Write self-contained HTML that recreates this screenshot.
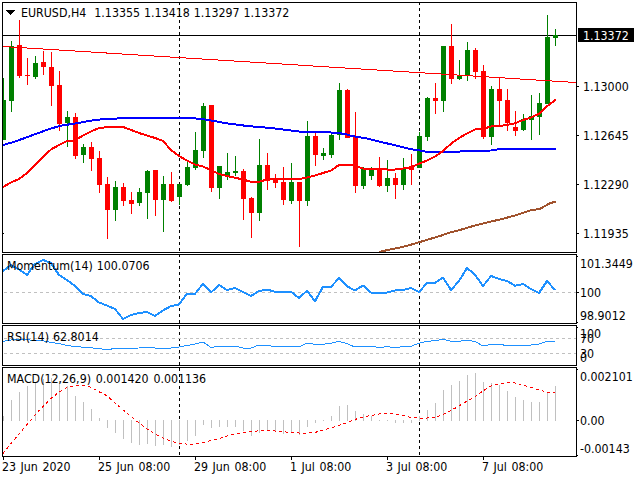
<!DOCTYPE html><html><head><meta charset="utf-8"><title>EURUSD H4</title>
<style>html,body{margin:0;padding:0;background:#fff;}svg{display:block}text{font-family:"DejaVu Sans Condensed","DejaVu Sans","Liberation Sans",sans-serif;font-size:12.3px;fill:#000}</style></head><body>
<svg width="640" height="480" viewBox="0 0 640 480">
<rect width="640" height="480" fill="#fff"/>
<defs><clipPath id="cm"><rect x="3" y="3" width="573" height="249"/></clipPath></defs>
<g shape-rendering="crispEdges">
<line x1="179.5" y1="3" x2="179.5" y2="252" stroke="#000" stroke-width="1" stroke-dasharray="3 3" stroke-dashoffset="1"/>
<line x1="179.5" y1="255" x2="179.5" y2="323" stroke="#000" stroke-width="1" stroke-dasharray="3 3" stroke-dashoffset="1"/>
<line x1="179.5" y1="326" x2="179.5" y2="365" stroke="#000" stroke-width="1" stroke-dasharray="3 3" stroke-dashoffset="0"/>
<line x1="179.5" y1="368" x2="179.5" y2="456" stroke="#000" stroke-width="1" stroke-dasharray="3 3" stroke-dashoffset="0"/>
<line x1="419.5" y1="3" x2="419.5" y2="252" stroke="#000" stroke-width="1" stroke-dasharray="3 3" stroke-dashoffset="1"/>
<line x1="419.5" y1="255" x2="419.5" y2="323" stroke="#000" stroke-width="1" stroke-dasharray="3 3" stroke-dashoffset="1"/>
<line x1="419.5" y1="326" x2="419.5" y2="365" stroke="#000" stroke-width="1" stroke-dasharray="3 3" stroke-dashoffset="0"/>
<line x1="419.5" y1="368" x2="419.5" y2="456" stroke="#000" stroke-width="1" stroke-dasharray="3 3" stroke-dashoffset="0"/>
<rect x="3" y="35" width="574" height="1" fill="#000"/>
<g clip-path="url(#cm)">
<rect x="3" y="78" width="1" height="62" fill="#008000"/>
<rect x="1" y="100" width="5" height="40" fill="#008000"/>
<rect x="11" y="41" width="1" height="71" fill="#008000"/>
<rect x="9" y="46" width="5" height="55" fill="#008000"/>
<rect x="19" y="20" width="1" height="58" fill="#FF0000"/>
<rect x="17" y="45" width="5" height="31" fill="#FF0000"/>
<rect x="27" y="58" width="1" height="27" fill="#FF0000"/>
<rect x="25" y="75" width="5" height="1" fill="#FF0000"/>
<rect x="35" y="56" width="1" height="23" fill="#008000"/>
<rect x="33" y="63" width="5" height="14" fill="#008000"/>
<rect x="43" y="51" width="1" height="24" fill="#FF0000"/>
<rect x="41" y="62" width="5" height="5" fill="#FF0000"/>
<rect x="51" y="52" width="1" height="54" fill="#FF0000"/>
<rect x="49" y="67" width="5" height="19" fill="#FF0000"/>
<rect x="59" y="71" width="1" height="60" fill="#FF0000"/>
<rect x="57" y="85" width="5" height="39" fill="#FF0000"/>
<rect x="67" y="111" width="1" height="36" fill="#008000"/>
<rect x="65" y="117" width="5" height="6" fill="#008000"/>
<rect x="75" y="113" width="1" height="46" fill="#FF0000"/>
<rect x="73" y="117" width="5" height="39" fill="#FF0000"/>
<rect x="83" y="144" width="1" height="19" fill="#008000"/>
<rect x="81" y="147" width="5" height="8" fill="#008000"/>
<rect x="91" y="142" width="1" height="29" fill="#FF0000"/>
<rect x="89" y="147" width="5" height="12" fill="#FF0000"/>
<rect x="99" y="151" width="1" height="42" fill="#FF0000"/>
<rect x="97" y="158" width="5" height="27" fill="#FF0000"/>
<rect x="107" y="177" width="1" height="62" fill="#FF0000"/>
<rect x="105" y="184" width="5" height="26" fill="#FF0000"/>
<rect x="115" y="181" width="1" height="40" fill="#008000"/>
<rect x="113" y="187" width="5" height="23" fill="#008000"/>
<rect x="123" y="183" width="1" height="23" fill="#FF0000"/>
<rect x="121" y="187" width="5" height="14" fill="#FF0000"/>
<rect x="131" y="192" width="1" height="22" fill="#FF0000"/>
<rect x="129" y="200" width="5" height="4" fill="#FF0000"/>
<rect x="139" y="188" width="1" height="18" fill="#008000"/>
<rect x="137" y="192" width="5" height="11" fill="#008000"/>
<rect x="147" y="170" width="1" height="49" fill="#008000"/>
<rect x="145" y="171" width="5" height="22" fill="#008000"/>
<rect x="155" y="170" width="1" height="46" fill="#FF0000"/>
<rect x="153" y="170" width="5" height="30" fill="#FF0000"/>
<rect x="163" y="176" width="1" height="56" fill="#008000"/>
<rect x="161" y="184" width="5" height="16" fill="#008000"/>
<rect x="171" y="172" width="1" height="30" fill="#FF0000"/>
<rect x="169" y="184" width="5" height="17" fill="#FF0000"/>
<rect x="179" y="184" width="1" height="21" fill="#008000"/>
<rect x="177" y="184" width="5" height="13" fill="#008000"/>
<rect x="187" y="161" width="1" height="25" fill="#008000"/>
<rect x="185" y="167" width="5" height="18" fill="#008000"/>
<rect x="195" y="132" width="1" height="38" fill="#008000"/>
<rect x="193" y="150" width="5" height="18" fill="#008000"/>
<rect x="203" y="103" width="1" height="55" fill="#008000"/>
<rect x="201" y="106" width="5" height="45" fill="#008000"/>
<rect x="211" y="105" width="1" height="87" fill="#FF0000"/>
<rect x="209" y="105" width="5" height="83" fill="#FF0000"/>
<rect x="219" y="166" width="1" height="33" fill="#008000"/>
<rect x="217" y="166" width="5" height="22" fill="#008000"/>
<rect x="227" y="153" width="1" height="27" fill="#008000"/>
<rect x="225" y="172" width="5" height="5" fill="#008000"/>
<rect x="235" y="156" width="1" height="20" fill="#008000"/>
<rect x="233" y="171" width="5" height="2" fill="#008000"/>
<rect x="243" y="169" width="1" height="51" fill="#FF0000"/>
<rect x="241" y="171" width="5" height="28" fill="#FF0000"/>
<rect x="251" y="197" width="1" height="41" fill="#FF0000"/>
<rect x="249" y="198" width="5" height="15" fill="#FF0000"/>
<rect x="259" y="139" width="1" height="82" fill="#008000"/>
<rect x="257" y="165" width="5" height="48" fill="#008000"/>
<rect x="267" y="153" width="1" height="37" fill="#FF0000"/>
<rect x="265" y="165" width="5" height="16" fill="#FF0000"/>
<rect x="275" y="174" width="1" height="14" fill="#FF0000"/>
<rect x="273" y="180" width="5" height="3" fill="#FF0000"/>
<rect x="283" y="167" width="1" height="38" fill="#FF0000"/>
<rect x="281" y="182" width="5" height="18" fill="#FF0000"/>
<rect x="291" y="163" width="1" height="41" fill="#008000"/>
<rect x="289" y="182" width="5" height="19" fill="#008000"/>
<rect x="299" y="182" width="1" height="65" fill="#FF0000"/>
<rect x="297" y="182" width="5" height="19" fill="#FF0000"/>
<rect x="307" y="121" width="1" height="85" fill="#008000"/>
<rect x="305" y="136" width="5" height="65" fill="#008000"/>
<rect x="315" y="133" width="1" height="33" fill="#FF0000"/>
<rect x="313" y="136" width="5" height="19" fill="#FF0000"/>
<rect x="323" y="148" width="1" height="12" fill="#008000"/>
<rect x="321" y="153" width="5" height="3" fill="#008000"/>
<rect x="331" y="134" width="1" height="24" fill="#008000"/>
<rect x="329" y="135" width="5" height="20" fill="#008000"/>
<rect x="339" y="83" width="1" height="57" fill="#008000"/>
<rect x="337" y="90" width="5" height="45" fill="#008000"/>
<rect x="347" y="89" width="1" height="49" fill="#FF0000"/>
<rect x="345" y="90" width="5" height="48" fill="#FF0000"/>
<rect x="355" y="112" width="1" height="81" fill="#FF0000"/>
<rect x="353" y="136" width="5" height="50" fill="#FF0000"/>
<rect x="363" y="167" width="1" height="22" fill="#008000"/>
<rect x="361" y="169" width="5" height="17" fill="#008000"/>
<rect x="371" y="167" width="1" height="13" fill="#008000"/>
<rect x="369" y="170" width="5" height="6" fill="#008000"/>
<rect x="379" y="157" width="1" height="30" fill="#FF0000"/>
<rect x="377" y="169" width="5" height="17" fill="#FF0000"/>
<rect x="387" y="160" width="1" height="32" fill="#008000"/>
<rect x="385" y="178" width="5" height="8" fill="#008000"/>
<rect x="395" y="173" width="1" height="26" fill="#FF0000"/>
<rect x="393" y="178" width="5" height="7" fill="#FF0000"/>
<rect x="403" y="158" width="1" height="32" fill="#008000"/>
<rect x="401" y="169" width="5" height="16" fill="#008000"/>
<rect x="411" y="154" width="1" height="31" fill="#FF0000"/>
<rect x="409" y="166" width="5" height="4" fill="#FF0000"/>
<rect x="419" y="132" width="1" height="36" fill="#008000"/>
<rect x="417" y="136" width="5" height="32" fill="#008000"/>
<rect x="427" y="97" width="1" height="44" fill="#008000"/>
<rect x="425" y="98" width="5" height="39" fill="#008000"/>
<rect x="435" y="83" width="1" height="31" fill="#FF0000"/>
<rect x="433" y="98" width="5" height="3" fill="#FF0000"/>
<rect x="443" y="46" width="1" height="66" fill="#008000"/>
<rect x="441" y="46" width="5" height="55" fill="#008000"/>
<rect x="451" y="24" width="1" height="60" fill="#FF0000"/>
<rect x="449" y="46" width="5" height="33" fill="#FF0000"/>
<rect x="459" y="60" width="1" height="20" fill="#008000"/>
<rect x="457" y="75" width="5" height="4" fill="#008000"/>
<rect x="467" y="42" width="1" height="39" fill="#008000"/>
<rect x="465" y="50" width="5" height="25" fill="#008000"/>
<rect x="475" y="48" width="1" height="31" fill="#FF0000"/>
<rect x="473" y="50" width="5" height="22" fill="#FF0000"/>
<rect x="483" y="65" width="1" height="74" fill="#FF0000"/>
<rect x="481" y="71" width="5" height="66" fill="#FF0000"/>
<rect x="491" y="86" width="1" height="59" fill="#008000"/>
<rect x="489" y="89" width="5" height="48" fill="#008000"/>
<rect x="499" y="77" width="1" height="48" fill="#FF0000"/>
<rect x="497" y="89" width="5" height="12" fill="#FF0000"/>
<rect x="507" y="89" width="1" height="42" fill="#FF0000"/>
<rect x="505" y="100" width="5" height="23" fill="#FF0000"/>
<rect x="515" y="111" width="1" height="25" fill="#FF0000"/>
<rect x="513" y="127" width="5" height="4" fill="#FF0000"/>
<rect x="523" y="114" width="1" height="17" fill="#008000"/>
<rect x="521" y="119" width="5" height="11" fill="#008000"/>
<rect x="531" y="95" width="1" height="45" fill="#008000"/>
<rect x="529" y="116" width="5" height="4" fill="#008000"/>
<rect x="539" y="93" width="1" height="42" fill="#008000"/>
<rect x="537" y="103" width="5" height="14" fill="#008000"/>
<rect x="547" y="15" width="1" height="89" fill="#008000"/>
<rect x="545" y="37" width="5" height="67" fill="#008000"/>
<rect x="555" y="29" width="1" height="17" fill="#008000"/>
<rect x="553" y="35" width="5" height="3" fill="#008000"/>
</g>
<line x1="3" y1="46.5" x2="576" y2="82.5" stroke="#FF0000" stroke-width="1" clip-path="url(#cm)"/>
<polyline points="379,252 390,249.5 400,247.5 410,245 420,242 430,239 440,236 450,232.5 460,230 475,225.5 487,222.5 500,219.5 515,215.5 530,210.5 540,208.75 550,203.25 556,201.5" fill="none" stroke="#A0522D" stroke-width="2" stroke-linejoin="round" clip-path="url(#cm)"/>
<polyline points="3,145 12,142.5 25,138 37,133.5 50,128.75 62,125.5 75,123.5 92,120.5 100,119.5 110,119 125,118 140,117.5 150,118 164,117.5 187,117.5 196,118.5 205,119.5 214,121 222,122.5 231,124 240,125 247,126 259,127 271,128 279,129 287,130 295,131 303,132 323,132 338,133 345,134 350,135.5 358,137 367,138.5 375,140.5 383,142.5 392,144.5 400,146.5 410,149 420,150.5 428,152 450,152 460,151.5 470,151 491,150.5 500,149 556,149" fill="none" stroke="#0000FF" stroke-width="2" stroke-linejoin="round" />
<polyline points="3,187 11,182.5 19,179 27,173 35,165 43,157 51,149.5 59,145 67,141 75,140.5 83,135.5 91,131.5 99,128 107,127.25 115,127 123,127 131,130 139,133 147,135.5 155,138 163,141 171,150 179,156 187,160.5 195,164.5 203,166.5 211,170 219,174 227,176 235,177.75 243,179.5 251,181.75 259,181.75 267,179.5 275,179 283,179 291,179 299,179 307,177.5 315,175.5 323,173 331,170.5 339,165 347,165 355,165.5 363,168.5 371,169 379,169 387,169.5 395,169.5 403,168.5 411,167.25 419,163.75 427,160.5 435,156.5 443,151 451,143.75 459,138 467,133.5 475,129.5 483,128.75 491,126.5 499,126 507,125 515,123.25 523,120 531,117.5 539,113.75 547,106.25 556,99.5" fill="none" stroke="#FF0000" stroke-width="2" stroke-linejoin="round" />
<line x1="4" y1="292.5" x2="576" y2="292.5" stroke="#C0C0C0" stroke-width="1" stroke-dasharray="3 3"/>
<line x1="4" y1="338.5" x2="576" y2="338.5" stroke="#C0C0C0" stroke-width="1" stroke-dasharray="3 3"/>
<line x1="4" y1="353.5" x2="576" y2="353.5" stroke="#C0C0C0" stroke-width="1" stroke-dasharray="3 3"/>
<rect x="3" y="416" width="1" height="5" fill="#C0C0C0"/>
<rect x="11" y="400" width="1" height="21" fill="#C0C0C0"/>
<rect x="19" y="392" width="1" height="29" fill="#C0C0C0"/>
<rect x="27" y="386" width="1" height="35" fill="#C0C0C0"/>
<rect x="35" y="382" width="1" height="39" fill="#C0C0C0"/>
<rect x="43" y="379" width="1" height="42" fill="#C0C0C0"/>
<rect x="51" y="378" width="1" height="43" fill="#C0C0C0"/>
<rect x="59" y="381" width="1" height="40" fill="#C0C0C0"/>
<rect x="67" y="386" width="1" height="35" fill="#C0C0C0"/>
<rect x="75" y="396" width="1" height="25" fill="#C0C0C0"/>
<rect x="83" y="402" width="1" height="19" fill="#C0C0C0"/>
<rect x="91" y="409" width="1" height="12" fill="#C0C0C0"/>
<rect x="99" y="418" width="1" height="3" fill="#C0C0C0"/>
<rect x="107" y="420" width="1" height="8" fill="#C0C0C0"/>
<rect x="115" y="420" width="1" height="13" fill="#C0C0C0"/>
<rect x="123" y="420" width="1" height="19" fill="#C0C0C0"/>
<rect x="131" y="420" width="1" height="23" fill="#C0C0C0"/>
<rect x="139" y="420" width="1" height="25" fill="#C0C0C0"/>
<rect x="147" y="420" width="1" height="24" fill="#C0C0C0"/>
<rect x="155" y="420" width="1" height="26" fill="#C0C0C0"/>
<rect x="163" y="420" width="1" height="25" fill="#C0C0C0"/>
<rect x="171" y="420" width="1" height="27" fill="#C0C0C0"/>
<rect x="179" y="420" width="1" height="25" fill="#C0C0C0"/>
<rect x="187" y="420" width="1" height="21" fill="#C0C0C0"/>
<rect x="195" y="420" width="1" height="16" fill="#C0C0C0"/>
<rect x="203" y="420" width="1" height="5" fill="#C0C0C0"/>
<rect x="211" y="420" width="1" height="8" fill="#C0C0C0"/>
<rect x="219" y="420" width="1" height="7" fill="#C0C0C0"/>
<rect x="227" y="420" width="1" height="7" fill="#C0C0C0"/>
<rect x="235" y="420" width="1" height="7" fill="#C0C0C0"/>
<rect x="243" y="420" width="1" height="11" fill="#C0C0C0"/>
<rect x="251" y="420" width="1" height="16" fill="#C0C0C0"/>
<rect x="259" y="420" width="1" height="13" fill="#C0C0C0"/>
<rect x="267" y="420" width="1" height="11" fill="#C0C0C0"/>
<rect x="275" y="420" width="1" height="11" fill="#C0C0C0"/>
<rect x="283" y="420" width="1" height="14" fill="#C0C0C0"/>
<rect x="291" y="420" width="1" height="13" fill="#C0C0C0"/>
<rect x="299" y="420" width="1" height="15" fill="#C0C0C0"/>
<rect x="307" y="420" width="1" height="7" fill="#C0C0C0"/>
<rect x="315" y="420" width="1" height="3" fill="#C0C0C0"/>
<rect x="323" y="420" width="1" height="1" fill="#C0C0C0"/>
<rect x="331" y="416" width="1" height="5" fill="#C0C0C0"/>
<rect x="339" y="406" width="1" height="15" fill="#C0C0C0"/>
<rect x="347" y="405" width="1" height="16" fill="#C0C0C0"/>
<rect x="355" y="411" width="1" height="10" fill="#C0C0C0"/>
<rect x="363" y="414" width="1" height="7" fill="#C0C0C0"/>
<rect x="371" y="416" width="1" height="5" fill="#C0C0C0"/>
<rect x="379" y="420" width="1" height="1" fill="#C0C0C0"/>
<rect x="387" y="420" width="1" height="1" fill="#C0C0C0"/>
<rect x="395" y="420" width="1" height="3" fill="#C0C0C0"/>
<rect x="403" y="420" width="1" height="3" fill="#C0C0C0"/>
<rect x="411" y="420" width="1" height="3" fill="#C0C0C0"/>
<rect x="419" y="416" width="1" height="5" fill="#C0C0C0"/>
<rect x="427" y="410" width="1" height="11" fill="#C0C0C0"/>
<rect x="435" y="403" width="1" height="18" fill="#C0C0C0"/>
<rect x="443" y="390" width="1" height="31" fill="#C0C0C0"/>
<rect x="451" y="385" width="1" height="36" fill="#C0C0C0"/>
<rect x="459" y="381" width="1" height="40" fill="#C0C0C0"/>
<rect x="467" y="375" width="1" height="46" fill="#C0C0C0"/>
<rect x="475" y="373" width="1" height="48" fill="#C0C0C0"/>
<rect x="483" y="382" width="1" height="39" fill="#C0C0C0"/>
<rect x="491" y="383" width="1" height="38" fill="#C0C0C0"/>
<rect x="499" y="385" width="1" height="36" fill="#C0C0C0"/>
<rect x="507" y="391" width="1" height="30" fill="#C0C0C0"/>
<rect x="515" y="397" width="1" height="24" fill="#C0C0C0"/>
<rect x="523" y="400" width="1" height="21" fill="#C0C0C0"/>
<rect x="531" y="402" width="1" height="19" fill="#C0C0C0"/>
<rect x="539" y="402" width="1" height="19" fill="#C0C0C0"/>
<rect x="547" y="392" width="1" height="29" fill="#C0C0C0"/>
<rect x="555" y="386" width="1" height="35" fill="#C0C0C0"/>
<polyline points="3,453.5 11,443.5 19,434 27,424.4 35,415 43,406.4 51,398.4 59,392.2 67,387.5 75,385.4 83,385.4 91,387.2 99,391.7 107,395.8 115,403 123,409.8 131,416.7 139,422.9 147,428.8 155,434.1 163,437.9 171,441.5 179,443 187,444.2 195,444.4 203,442.4 211,440.5 219,438.75 227,436 235,434 243,432.5 251,431.75 259,430.75 267,430.5 275,431 283,431.75 291,432.5 299,433 307,433 315,432.5 323,430 331,428 339,425.5 347,422.5 355,419.5 363,417 371,415.5 379,414 387,413.5 395,414 403,415.5 411,417.5 419,418 427,418 435,417.5 443,414.5 451,410.5 459,406 467,401 475,397 483,391 491,386 499,383.75 507,382.5 515,383 523,385 531,387.5 539,390 547,392 555,392.5" fill="none" stroke="#FF0000" stroke-width="1" stroke-linejoin="round" stroke-dasharray="3 3"/>
<polyline points="3,271 11,265 19,269.5 27,275 35,264 43,260 51,263 59,275 67,280 75,286 83,294 91,296 99,302.5 107,305.5 115,309 123,319 131,315 139,313 147,312 155,316 163,310.5 171,306 179,304.5 187,293.75 195,293.75 203,283.75 211,292.5 219,285 227,290 235,288 243,292 251,296 259,291 267,289.5 275,291.75 283,291.75 291,291.75 299,298 307,290.75 315,301.25 323,286.75 331,286.75 339,278.25 347,286.25 355,290.5 363,285.5 371,292.5 379,293 387,292.5 395,290.5 403,290 411,288 419,292 427,283 435,283 443,277.5 451,290 459,281 467,268 475,274.7 483,286 491,276 499,279 507,281 515,285.7 523,284 531,289 539,293 547,281 555,290" fill="none" stroke="#1E90FF" stroke-width="2" stroke-linejoin="round" />
<polyline points="3,341.25 11,340 19,339.5 27,339.8 35,340.3 43,340.7 51,342.5 59,343.5 67,345.5 75,346.5 83,347.2 91,347.8 99,348.5 107,350 115,348.25 123,348.75 131,348.2 139,348 147,347.5 155,348 163,348 171,348 179,347 187,345.5 195,344 203,342 211,347.5 219,346 227,346 235,346 243,348 251,348 259,345 267,345.75 275,346.25 283,347 291,346 299,347 307,343.25 315,344.25 323,344.25 331,343.25 339,341.25 347,343.75 355,347 363,346.25 371,346.25 379,347.5 387,346.75 395,347.5 403,346.75 411,346.25 419,343.25 427,341.25 435,340.75 443,339.25 451,341.25 459,341.25 467,340 475,341.5 483,346 491,344.5 499,344.5 507,345.4 515,346 523,345.5 531,345 539,344 547,341.5 555,341.2" fill="none" stroke="#1E90FF" stroke-width="1" stroke-linejoin="round" />
<rect x="2.5" y="2.5" width="574" height="250" fill="none" stroke="#000" stroke-width="1"/>
<rect x="2.5" y="254.5" width="574" height="69" fill="none" stroke="#000" stroke-width="1"/>
<rect x="2.5" y="325.5" width="574" height="40" fill="none" stroke="#000" stroke-width="1"/>
<rect x="2.5" y="367.5" width="574" height="89" fill="none" stroke="#000" stroke-width="1"/>
<rect x="577" y="86" width="2" height="1" fill="#000"/>
<rect x="577" y="135" width="2" height="1" fill="#000"/>
<rect x="577" y="184" width="2" height="1" fill="#000"/>
<rect x="577" y="233" width="2" height="1" fill="#000"/>
<rect x="577" y="292" width="2" height="1" fill="#000"/>
<rect x="577" y="420" width="2" height="1" fill="#000"/>
<rect x="3" y="233" width="1" height="1" fill="#000"/>
<rect x="577" y="256" width="1" height="1" fill="#000"/>
<rect x="577" y="322" width="1" height="1" fill="#000"/>
<rect x="577" y="327" width="1" height="1" fill="#000"/>
<rect x="577" y="369" width="1" height="1" fill="#000"/>
<rect x="577" y="455" width="1" height="1" fill="#000"/>
<rect x="3" y="457" width="1" height="3" fill="#000"/>
<rect x="99" y="457" width="1" height="3" fill="#000"/>
<rect x="195" y="457" width="1" height="3" fill="#000"/>
<rect x="291" y="457" width="1" height="3" fill="#000"/>
<rect x="387" y="457" width="1" height="3" fill="#000"/>
<rect x="483" y="457" width="1" height="3" fill="#000"/>
<rect x="578" y="28" width="56" height="14" fill="#000"/>
<polygon points="6,10 15,10 10.5,15" fill="#000"/>
</g>
<text x="21" y="17" style="word-spacing:0.5px" textLength="268.30" lengthAdjust="spacingAndGlyphs">EURUSD,H4&#160;&#160;1.13355 1.13418 1.13297 1.13372</text>
<text x="583" y="39.5" style="fill:#fff" textLength="45.75" lengthAdjust="spacingAndGlyphs">1.13372</text>
<text x="583" y="90.5" textLength="45.75" lengthAdjust="spacingAndGlyphs">1.13000</text>
<text x="583" y="139.5" textLength="45.75" lengthAdjust="spacingAndGlyphs">1.12645</text>
<text x="583" y="188.5" textLength="45.75" lengthAdjust="spacingAndGlyphs">1.12290</text>
<text x="583" y="237.5" textLength="45.75" lengthAdjust="spacingAndGlyphs">1.11935</text>
<text x="580" y="268" textLength="52.78" lengthAdjust="spacingAndGlyphs">101.3449</text>
<text x="580" y="296.5" textLength="21.12" lengthAdjust="spacingAndGlyphs">100</text>
<text x="580" y="320" textLength="45.75" lengthAdjust="spacingAndGlyphs">98.9012</text>
<text x="580" y="338" textLength="21.12" lengthAdjust="spacingAndGlyphs">100</text>
<text x="580" y="342.5" textLength="14.08" lengthAdjust="spacingAndGlyphs">70</text>
<text x="580" y="357.5" textLength="14.08" lengthAdjust="spacingAndGlyphs">30</text>
<text x="580" y="362" textLength="7.05" lengthAdjust="spacingAndGlyphs">0</text>
<text x="580" y="380.5" textLength="52.78" lengthAdjust="spacingAndGlyphs">0.002101</text>
<text x="580" y="424.7" textLength="24.62" lengthAdjust="spacingAndGlyphs">0.00</text>
<text x="580" y="453" textLength="49.73" lengthAdjust="spacingAndGlyphs">-0.00143</text>
<text x="7" y="269.7" style="word-spacing:0.5px" textLength="142.55" lengthAdjust="spacingAndGlyphs">Momentum(14) 100.0706</text>
<text x="7" y="341.3"><tspan style="letter-spacing:0.25px" textLength="46.20" lengthAdjust="spacingAndGlyphs">RSI(14) </tspan><tspan x="53" textLength="45.75" lengthAdjust="spacingAndGlyphs">62.8014</tspan></text>
<text x="7" y="383" style="word-spacing:1.3px" textLength="199.17" lengthAdjust="spacingAndGlyphs">MACD(12,26,9) 0.001420 0.001136</text>
<text x="2" y="471" style="word-spacing:1px" textLength="68.55" lengthAdjust="spacingAndGlyphs">23 Jun 2020</text>
<text x="98" y="471" style="word-spacing:1px" textLength="72.27" lengthAdjust="spacingAndGlyphs">25 Jun 08:00</text>
<text x="194" y="471" style="word-spacing:1px" textLength="72.27" lengthAdjust="spacingAndGlyphs">29 Jun 08:00</text>
<text x="290" y="471" style="word-spacing:1px" textLength="61.30" lengthAdjust="spacingAndGlyphs">1 Jul 08:00</text>
<text x="386" y="471" style="word-spacing:1px" textLength="61.30" lengthAdjust="spacingAndGlyphs">3 Jul 08:00</text>
<text x="482" y="471" style="word-spacing:1px" textLength="61.30" lengthAdjust="spacingAndGlyphs">7 Jul 08:00</text>
</svg></body></html>
